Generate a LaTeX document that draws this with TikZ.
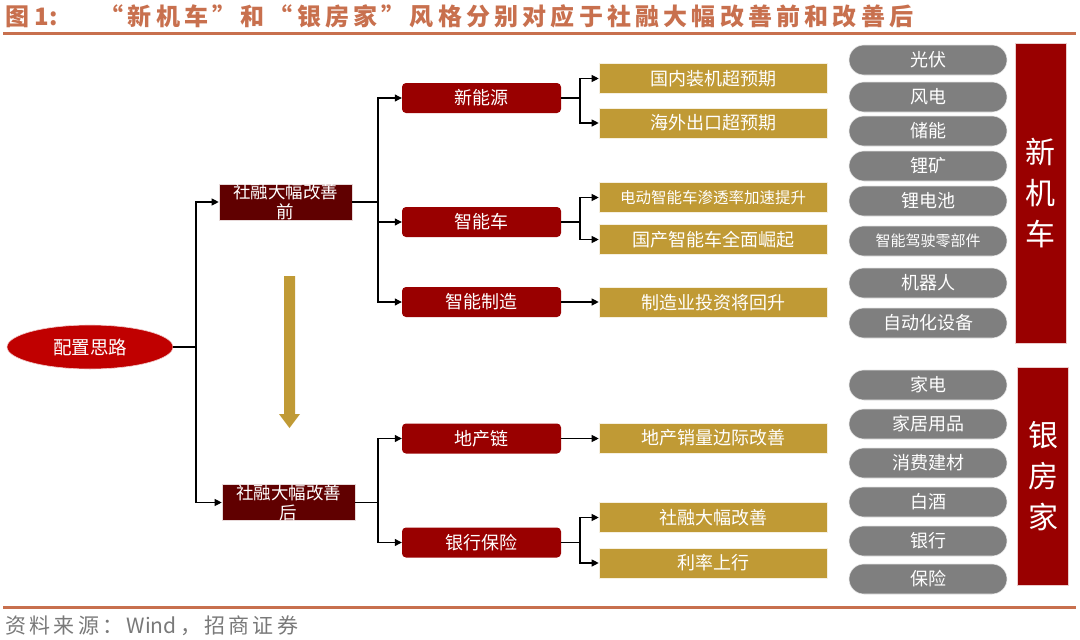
\documentclass[tikz,border=0pt]{standalone}
\usepackage{fontspec}
\setmainfont{Noto Sans CJK SC}
\usetikzlibrary{arrows.meta,shapes.geometric}
\definecolor{ttl}{RGB}{200,112,78}
\definecolor{darkred}{RGB}{96,0,0}
\definecolor{midred}{RGB}{153,0,0}
\definecolor{ellred}{RGB}{192,0,0}
\definecolor{gold}{RGB}{192,154,53}
\definecolor{pill}{RGB}{127,127,127}
\newskip\myspskip
\def\spacedtext#1{\spacedaux#1\relax}
\def\spacedaux#1{\ifx#1\relax\else#1\hskip\myspskip\expandafter\spacedaux\fi}
\tikzset{
  conn/.style={draw=black, line width=1.1pt, -{Triangle[length=7pt,width=7pt]}},
  plain/.style={draw=black, line width=1.1pt},
  topbox/.style={fill=darkred, draw=white!85!darkred, line width=0.6pt, minimum width=133pt, minimum height=36pt, inner sep=0pt, text=white, font=\fontsize{17.5}{20}\selectfont, align=center},
  catbox/.style={fill=midred, rounded corners=4pt, minimum width=159pt, minimum height=30pt, inner sep=0pt, text=white, font=\fontsize{18}{20}\selectfont},
  goldbox/.style={fill=gold, draw=white!85!gold, line width=0.6pt, minimum width=228pt, minimum height=30pt, inner sep=0pt, text=white, font=\fontsize{18}{20}\selectfont},
  pillbox/.style={fill=pill, draw=white!80!pill, line width=0.6pt, rounded corners=15pt, minimum width=158pt, minimum height=30pt, inner sep=0pt, text=white, font=\fontsize{18}{20}\selectfont},
  sidebox/.style={fill=midred, draw=white!80!midred, line width=0.6pt, minimum width=51pt, inner sep=0pt, text=white, font=\fontsize{30}{41}\selectfont, align=center},
}
\begin{document}
\begin{tikzpicture}[x=1pt,y=-1pt]
\useasboundingbox (0,0) rectangle (1080,640);
% title
\node[anchor=west, text=ttl, font=\fontsize{24}{26}\selectfont\bfseries, inner sep=0pt] (title) at (5,16) {图 1:\hspace{1.75em}\myspskip=4.2pt\spacedtext{“新机车”和“银房家”风格分别对应于社融大幅改善前和改善}后};
\draw[ttl, line width=3pt] (3,33) -- (1076,33);
% footer
\draw[ttl, line width=3pt] (3,607) -- (1076,607);
\node[anchor=west, text=pill!95!black, font=\fontsize{21}{24}\selectfont, inner sep=0pt] (src) at (5,626) {\myspskip=3.3pt\spacedtext{资料来源：}Wind\hskip\myspskip\spacedtext{，招商证}券};

% root ellipse
\node[ellipse, fill=ellred, draw=white!80!ellred, line width=0.6pt, minimum width=166pt, minimum height=44pt, inner sep=0pt, text=white, font=\fontsize{18.5}{20}\selectfont] (root) at (90,347) {配置思路};

% level 1
\node[topbox] (pre) at (285.5,202) {社融大幅改善\\前};
\node[topbox] (post) at (288.5,502.5) {社融大幅改善\\后};

% gold arrow
\fill[gold] (284,276) -- (295,276) -- (295,414) -- (300,414) -- (289.5,428) -- (279,414) -- (284,414) -- cycle;

% level 2
\node[catbox] (xny) at (481.5,98) {新能源};
\node[catbox] (znc) at (481.5,222) {智能车};
\node[catbox] (znzz) at (481.5,302) {智能制造};
\node[catbox] (dcl) at (481.5,438.5) {地产链};
\node[catbox] (yhbx) at (481.5,542.5) {银行保险};

% level 3
\node[goldbox] (g1) at (713,78.5) {国内装机超预期};
\node[goldbox] (g2) at (713,123) {海外出口超预期};
\node[goldbox, font=\fontsize{15.5}{17}\selectfont] (g3) at (713,197.5) {电动智能车渗透率加速提升};
\node[goldbox] (g4) at (713,239.5) {国产智能车全面崛起};
\node[goldbox] (g5) at (713,302.5) {制造业投资将回升};
\node[goldbox] (g6) at (713,438) {地产销量边际改善};
\node[goldbox] (g7) at (713,517.5) {社融大幅改善};
\node[goldbox] (g8) at (713,563) {利率上行};

% pills upper
\node[pillbox] (p1) at (928,60) {光伏};
\node[pillbox] (p2) at (928,97) {风电};
\node[pillbox] (p3) at (928,131) {储能};
\node[pillbox] (p4) at (928,166) {锂矿};
\node[pillbox] (p5) at (928,201) {锂电池};
\node[pillbox, font=\fontsize{15}{17}\selectfont] (p6) at (928,241) {智能驾驶零部件};
\node[pillbox] (p7) at (928,283) {机器人};
\node[pillbox] (p8) at (928,323) {自动化设备};
% pills lower
\node[pillbox] (q1) at (928,385) {家电};
\node[pillbox] (q2) at (928,424) {家居用品};
\node[pillbox] (q3) at (928,463) {消费建材};
\node[pillbox] (q4) at (928,502) {白酒};
\node[pillbox] (q5) at (928,541) {银行};
\node[pillbox] (q6) at (928,579) {保险};

% side boxes
\node[sidebox, minimum height=300pt] (xjc) at (1040.5,193) {新\\机\\车};
\node[sidebox, minimum height=218pt] (yfj) at (1043,476) {银\\房\\家};

% connectors
\coordinate (j0) at (196,347);
\draw[plain] (root.east) -- (j0);
\draw[conn] (j0) |- (pre.west);
\draw[conn] (j0) |- (post.west);

\coordinate (j1) at (378,202);
\draw[plain] (pre.east) -- (j1);
\draw[conn] (j1) |- (xny.west);
\draw[conn] (j1) |- (znc.west);
\draw[conn] (j1) |- (znzz.west);

\coordinate (j2) at (378,502.5);
\draw[plain] (post.east) -- (j2);
\draw[conn] (j2) |- (dcl.west);
\draw[conn] (j2) |- (yhbx.west);

\coordinate (j3) at (580,98);
\draw[plain] (xny.east) -- (j3);
\draw[conn] (j3) |- (g1.west);
\draw[conn] (j3) |- (g2.west);

\coordinate (j4) at (580,222);
\draw[plain] (znc.east) -- (j4);
\draw[conn] (j4) |- (g3.west);
\draw[conn] (j4) |- (g4.west);

\draw[conn] (znzz.east) -- (g5.west |- znzz.east);
\draw[conn] (dcl.east) -- (g6.west |- dcl.east);

\coordinate (j5) at (580,542.5);
\draw[plain] (yhbx.east) -- (j5);
\draw[conn] (j5) |- (g7.west);
\draw[conn] (j5) |- (g8.west);
\end{tikzpicture}
\end{document}
